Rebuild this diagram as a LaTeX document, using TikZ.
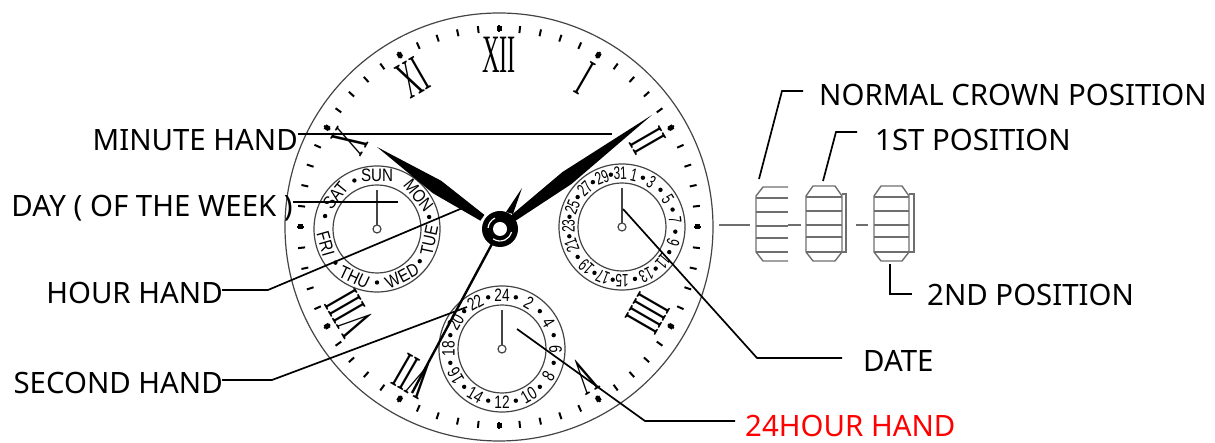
\documentclass[tikz,border=0pt]{standalone}
\usepackage{fontspec}
\setmainfont{Noto Sans}
\newfontfamily\dialfont{Liberation Sans}
\newfontfamily\romanfont{Liberation Serif}
\usetikzlibrary{positioning, calc}
\definecolor{LineBlack}{HTML}{000000}
\definecolor{DialGray}{HTML}{444444}
\definecolor{CrownGray}{HTML}{6E6E6E}
\definecolor{LabelRed}{HTML}{FF0000}
\newcommand{\numtext}[1]{\scalebox{0.76}[1]{\fontsize{18}{18}\dialfont #1}}
\newcommand{\datetext}[1]{\scalebox{0.66}[1]{\fontsize{18}{18}\dialfont #1}}
\newcommand{\daytext}[1]{\scalebox{0.84}[1]{\fontsize{18}{18}\dialfont #1}}
\tikzset{
    % Label and leader styles
    label/.style={
        font=\fontsize{29.4}{29.4}\selectfont,
        inner sep=0pt,
        text=LineBlack
    },
    leader/.style={
        line width=1.7pt,
        draw=LineBlack
    },
    % Dial styles
    dialline/.style={
        line width=1.2pt,
        draw=DialGray
    },
    minortick/.style={
        line width=2pt,
        draw=LineBlack
    },
    hourtick/.style={
        line width=5pt,
        draw=LineBlack
    },
    romannum/.style={
        font=\fontsize{54}{54}\romanfont,
        inner sep=0pt,
        text=LineBlack
    },
    subtext/.style={
        inner sep=0pt,
        text=LineBlack
    },
    % Crown styles
    crownline/.style={
        line width=1.4pt,
        draw=CrownGray
    }
}

\begin{document}
\begin{tikzpicture}[x=1pt, y=1pt]
    \useasboundingbox (0,0) rectangle (1215,443);

    % Main dial
    \coordinate (dial) at (499,216);
    \draw[dialline] (dial) circle (214);
    \foreach \m in {0,...,59}{
        \draw[minortick] ($(dial)+(\m*6:195)$) -- ($(dial)+(\m*6:202)$);
    }
    \foreach \m in {0,30,...,330}{
        \draw[hourtick] ($(dial)+(\m:196)$) -- ($(dial)+(\m:201)$);
    }
    \foreach \h/\rom in {30/I,60/II,120/IIII,150/V,210/VII,240/VIII,300/X,330/XI,0/XII}{
        \node[romannum, rotate=-\h] (num\rom) at ($(dial)+(90-\h:172)$) {\scalebox{0.45}[1]{\rom}};
    }

    % Day window
    \coordinate (daydial) at (377,214);
    \draw[dialline] (daydial) circle (63);
    \draw[dialline] (daydial) circle (44);
    \draw[dialline] (daydial) circle (4);
    \draw[dialline] ($(daydial)+(0,4)$) -- ($(daydial)+(0,39)$);
    \foreach \a/\r/\t in {0/0/SUN,51/51/MON,102/-78/TUE,152/-28/WED,205/25/THU,254/74/FRI,309/-51/SAT}{
        \node[subtext, rotate=-\r] (day\t) at ($(daydial)+(90-\a:53.5)$) {\daytext{\t}};
    }
    \foreach \a in {77,127,180,231,284,335}{
        \fill[LineBlack] ($(daydial)+(90-\a:53.5)$) circle (2.2);
    }

    % Date window
    \coordinate (datedial) at (622,216);
    \draw[dialline] (datedial) circle (63);
    \draw[dialline] (datedial) circle (44);
    \draw[dialline] (datedial) circle (4);
    \draw[dialline] ($(datedial)+(0,4)$) -- ($(datedial)+(0,39)$);
    \foreach \a/\t in {13/1,33/3,59/5,83/7,107/9,130/11,153/13,180/15,201/17,222/19,250/21,271/23,292/25,316/27,338/29,358/31}{
        \node[subtext, rotate=-\a] (date\t) at ($(datedial)+(90-\a:53.5)$) {\datetext{\t}};
    }
    \foreach \a in {23,46,71,95,118,141,166,190,211,236,260,281,304,327,348}{
        \fill[LineBlack] ($(datedial)+(90-\a:53.5)$) circle (2.2);
    }

    % 24 hour window
    \coordinate (hourdial) at (502,94);
    \draw[dialline] (hourdial) circle (63);
    \draw[dialline] (hourdial) circle (44);
    \draw[dialline] (hourdial) circle (4);
    \draw[dialline] ($(hourdial)+(0,4)$) -- ($(hourdial)+(0,39)$);
    \foreach \a/\r/\t in {0/0/24,30/30/2,60/60/4,90/90/6,120/-60/8,150/-30/10,180/0/12,210/30/14,240/240/16,270/270/18,300/300/20,330/330/22}{
        \node[subtext, rotate=-\r] (hour\t) at ($(hourdial)+(90-\a:53.5)$) {\numtext{\t}};
    }
    \foreach \a in {15,45,...,345}{
        \fill[LineBlack] ($(hourdial)+(90-\a:53.5)$) circle (2.2);
    }

    % Hands
    \coordinate (minutetip) at (652,328);
    \coordinate (hourtip) at (377,296);
    \coordinate (secondtip) at (412,50);
    \coordinate (tailtip) at (522,255);
    \coordinate (pivot) at (500,214);
    \fill[LineBlack] (511.3,227.8) -- (562.5,271) -- (minutetip) -- (571.5,259) -- (515.5,222.2) -- cycle;
    \fill[LineBlack] (484.4,228.1) -- (441.2,262.2) -- (hourtip) -- (432.8,249.8) -- (480.4,222.3) -- cycle;
    \fill[LineBlack] (506,231) -- (tailtip) -- (513,229) -- cycle;
    \draw[line width=2.4pt, LineBlack] (pivot) -- (secondtip);
    \fill[LineBlack] (pivot) circle (18);
    \fill[white] (pivot) circle (7);
    \draw[white, line width=1.2pt] ($(pivot)+(115:12)$) arc (115:175:12);
    \draw[white, line width=1.2pt] ($(pivot)+(235:12)$) arc (235:345:12);

    % Crown positions
    \draw[crownline] (788,256) -- (763,256) -- (756,247) -- (756,191) -- (763,182) -- (788,182);
    \foreach \y in {245,231,217,205,191}{ \draw[crownline] (756,\y) -- (788,\y); }
    \draw[crownline] (719,218) -- (750,218);
    \draw[crownline] (788,218) -- (801,218);
    \foreach \xa/\xb/\xc/\yb in {806/842/846/crowna,874/909/914/crownb}{
        \draw[crownline] (\xa+7,257) -- (\xb-7,257) -- (\xb,247) -- (\xb,191) -- (\xb-7,182) -- (\xa+7,182) -- (\xa,191) -- (\xa,247) -- cycle;
        \foreach \y in {246,232,218,206,191}{ \draw[crownline] (\xa,\y) -- (\xb,\y); }
        \draw[crownline] (\xb,249) -- (\xc,249) -- (\xc,191) -- (\xb,191);
    }
    \draw[crownline] (856,218) -- (868,218);

    % Labels
    \node[label, anchor=east] (minute) at (298,303) {MINUTE HAND};
    \node[label, anchor=east] (day) at (293,235) {DAY ( OF THE WEEK )};
    \node[label, anchor=east] (hour) at (223,150) {HOUR HAND};
    \node[label, anchor=east] (second) at (223,60) {SECOND HAND};
    \node[label, anchor=west] (normal) at (819,348) {NORMAL CROWN POSITION};
    \node[label, anchor=west] (first) at (875,303) {1ST POSITION};
    \node[label, anchor=west] (secondpos) at (927,148) {2ND POSITION};
    \node[label, anchor=west] (date) at (863,82) {DATE};
    \node[label, anchor=west, text=LabelRed] (hour24) at (745,17) {24HOUR HAND};

    % Leaders
    \coordinate (minuteend) at (612,309);
    \coordinate (dayend) at (398,241);
    \coordinate (hourend) at (465,236);
    \coordinate (secondend) at (467,136);
    \coordinate (dateend) at (623,234);
    \coordinate (hour24end) at (517,114);
    \coordinate (normalend) at (759,264);
    \coordinate (firstend) at (823,262);
    \coordinate (secondposend) at (890,179);
    \draw[leader] (minuteend -| minute.east) -- (minuteend);
    \draw[leader] (dayend -| day.east) -- (dayend);
    \draw[leader] (222,153) -- (268,153) -- (hourend);
    \draw[leader] (222,63) -- (272,63) -- (secondend);
    \draw[leader] (842,85) -- (757,85) -- (dateend);
    \draw[leader] (735,22) -- (645,22) -- (hour24end);
    \draw[leader] (803,352) -- (782,352) -- (normalend);
    \draw[leader] (857,311) -- (836,311) -- (firstend);
    \draw[leader] (912,149) -- (890,149) -- (secondposend);
\end{tikzpicture}
\end{document}
